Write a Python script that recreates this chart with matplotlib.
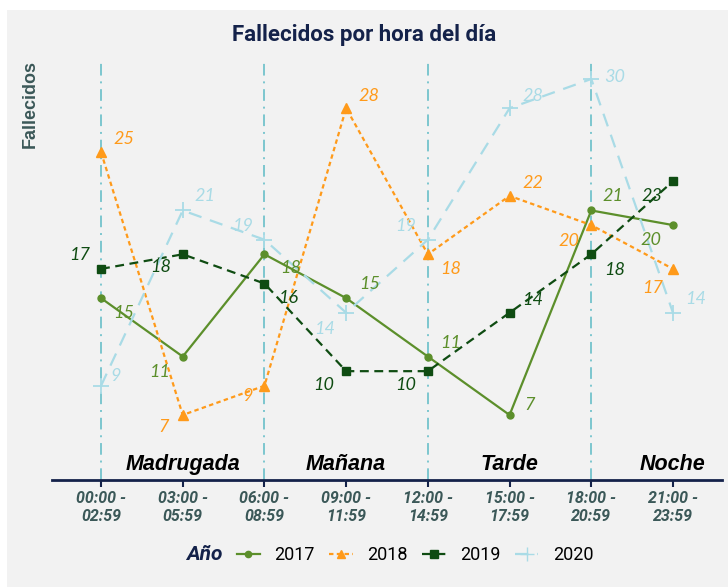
import numpy as np
import matplotlib
matplotlib.use("Agg")
import matplotlib.pyplot as plt
from matplotlib.patches import Rectangle
from matplotlib.lines import Line2D

# ---------- Daten ----------
franjas = ["00:00 -\n02:59", "03:00 -\n05:59", "06:00 -\n08:59", "09:00 -\n11:59",
           "12:00 -\n14:59", "15:00 -\n17:59", "18:00 -\n20:59", "21:00 -\n23:59"]
periodos = ["Madrugada", "Mañana", "Tarde", "Noche"]
anios = ["2017", "2018", "2019", "2020"]

f2017 = [15, 11, 18, 15, 11, 7, 21, 20]
f2018 = [25, 7, 9, 28, 18, 22, 20, 17]
f2019 = [17, 18, 16, 10, 10, 14, 18, 23]
f2020 = [9, 21, 19, 14, 19, 28, 30, 14]

# ---------- Stil ----------
colores = ["#5c8f2b", "#ff9a1a", "#0f4c12", "#a9dbe6"]
estilos = ["-", (0, (2, 1.5)), (0, (4, 2.5)), (0, (6, 4))]
marcas = ["o", "^", "s", "+"]
msizes = [5, 7, 6, 11]

# Versatz der Etiketten in Pixel (dx, dy nach unten positiv)
off2017 = [(23, 15), (-23, 15), (26, 14), (24, -14), (23, -14), (20, -10), (22, -14), (-22, 15)]
off2018 = [(23, -13), (-19, 12), (-17, 10), (23, -12), (23, 15), (23, -13), (-22, 16), (-20, 19)]
off2019 = [(-21, -14), (-22, 13), (24, 14), (-22, 14), (-22, 14), (23, -13), (23, 16), (-21, 15)]
off2020 = [(15, -10), (22, -14), (-22, -14), (-21, 16), (-22, -14), (23, -12), (23, -2), (23, -14)]

serien = [f2017, f2018, f2019, f2020]
offsets = [off2017, off2018, off2019, off2020]

navy = "#14224a"
gris = "#3b5858"
vline_col = "#7cc6cf"

# ---------- Figur ----------
W, H = 728, 587
fig = plt.figure(figsize=(W / 100, H / 100), dpi=100, facecolor="white")
fig.patches.append(Rectangle((7 / W, 0), 1, (H - 10) / H, transform=fig.transFigure,
                             facecolor="#f2f2f2", edgecolor="none", zorder=-5))

ax = fig.add_axes([52 / W, (H - 480) / H, 670 / W, 420 / H])
ax.set_facecolor("none")
x = np.arange(len(franjas))

for xv in [0, 2, 4, 6]:
    ax.axvline(xv, color=vline_col, lw=1.4, ls=(0, (6, 3, 1, 3)), zorder=1)

for y, c, ls, m, ms, off in zip(serien, colores, estilos, marcas, msizes, offsets):
    ax.plot(x, y, color=c, ls=ls, lw=1.6, marker=m, ms=ms, mew=1.3 if m == "+" else 1,
            zorder=3)
    for xi, yi, (dx, dy) in zip(x, y, off):
        ax.annotate(str(yi), (xi, yi), xytext=(dx * 0.72, -dy * 0.72),
                    textcoords="offset points", ha="center", va="center",
                    color=c, fontsize=13, family="Lato", style="italic", zorder=4)

for i, p in enumerate(periodos):
    ax.text(2 * i + 1, 3.6, p, ha="center", va="center", fontsize=15.5,
            family="Liberation Sans", weight="bold", style="italic", color="black",
            zorder=5)

ax.set_xlim(-0.6, 7.6)
ax.set_ylim(2.55, 31.3)
ax.set_xticks(x)
ax.set_xticklabels(franjas, family="Roboto", weight="bold", style="italic",
                   fontsize=11.5, color=gris, linespacing=1.25)
ax.set_yticks([])
for s in ["top", "right", "left"]:
    ax.spines[s].set_visible(False)
ax.spines["bottom"].set_color(navy)
ax.spines["bottom"].set_linewidth(2)
ax.tick_params(axis="x", colors=navy, length=5, width=1.5, pad=3)
for lab in ax.get_xticklabels():
    lab.set_color(gris)

fig.text(0.5, 1 - 35 / H, "Fallecidos por hora del día", ha="center", va="center",
         fontsize=16, family="Roboto", weight="bold", color=navy)
fig.text(30 / W, 1 - 60 / H, "Fallecidos", rotation=90, ha="center", va="top",
         fontsize=13, family="Liberation Sans", weight="bold", color=gris)

# ---------- Legende ----------
fig.text(204 / W, 1 - 555 / H, "Año", ha="center", va="center", fontsize=15,
         family="Roboto", weight="bold", style="italic", color=navy)
handles = [Line2D([], [], color=c, ls=ls, lw=1.6, marker=m, ms=ms * 0.9)
           for c, ls, m, ms in zip(colores, estilos, marcas, msizes)]
fig.legend(handles, anios, loc="center", bbox_to_anchor=(415 / W, 1 - 555 / H),
           ncol=4, frameon=False, handlelength=1.3, handletextpad=0.8,
           columnspacing=0.8, prop={"family": "Roboto", "size": 13})

plt.savefig("out.png", dpi=100, facecolor="white")
